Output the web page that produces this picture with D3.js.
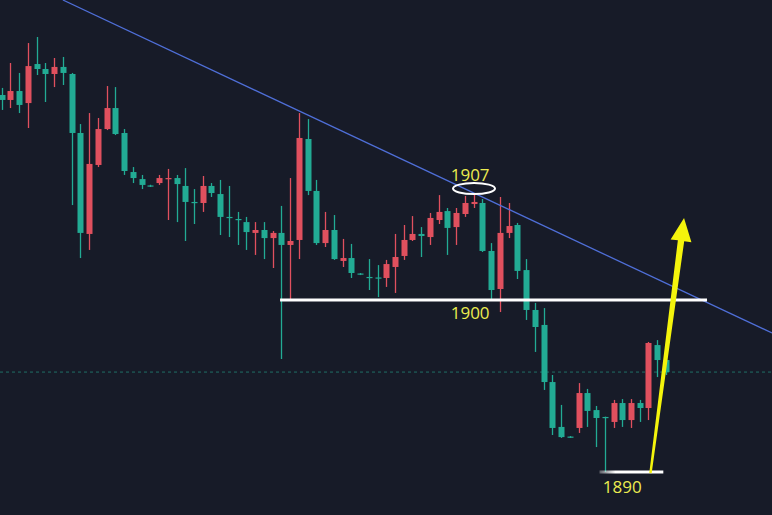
<!DOCTYPE html>
<html>
<head>
<meta charset="utf-8">
<script src="https://cdn.jsdelivr.net/npm/d3@7"></script>
<style>
  html, body { margin: 0; padding: 0; background: #171b28; }
  svg { display: block; }
</style>
</head>
<body>
<svg id="chart" width="772" height="515"></svg>
<script>
// ---- data (prices) ----
const opens  = [1911.92,1911.63,1912.15,1911.45,1913.72,1913.43,1913.14,1913.55,1913.14,1909.71,
                1903.84,1907.85,1909.94,1911.16,1909.71,1907.44,1907.03,1906.66,1906.80,1907.03,
                1907.09,1906.63,1905.70,1905.64,1906.63,1906.16,1904.83,1904.71,1904.53,1903.90,
                1904.07,1903.60,1903.90,1903.20,1903.49,1909.36,1906.34,1903.31,1904.07,1902.27,
                1902.44,1901.54,1901.34,1901.31,1901.28,1901.92,1902.56,1903.49,1903.84,1903.66,
                1904.65,1905.17,1904.24,1905.00,1905.58,1905.64,1902.85,1900.64,1903.90,1904.36,
                1901.74,1899.42,1898.55,1895.23,1892.62,1892.06,1892.56,1894.59,1893.60,1893.20,
                1892.91,1894.01,1893.02,1894.01,1893.72,1897.38,1896.51];
const highs  = [1912.33,1913.78,1913.20,1914.94,1915.29,1913.78,1914.07,1914.13,1913.20,1910.23,
                1910.87,1910.58,1912.44,1912.38,1909.94,1907.73,1907.27,1906.70,1907.27,1907.62,
                1907.27,1907.67,1906.45,1907.21,1906.80,1906.98,1906.63,1905.12,1904.83,1904.53,
                1904.53,1904.01,1905.47,1907.09,1910.87,1910.52,1906.98,1905.12,1904.94,1903.55,
                1903.26,1901.57,1902.38,1902.03,1902.33,1903.84,1904.36,1904.88,1904.24,1905.06,
                1906.10,1905.35,1905.35,1906.05,1906.22,1905.87,1903.31,1905.99,1905.64,1904.48,
                1902.38,1899.83,1899.53,1895.64,1893.90,1892.09,1895.17,1894.83,1893.84,1893.22,
                1894.19,1894.24,1894.24,1894.19,1897.56,1897.67,1896.98];
const lows   = [1911.05,1911.16,1910.87,1910.00,1913.08,1911.51,1912.38,1912.50,1905.52,1902.44,
                1902.91,1907.73,1909.88,1909.59,1907.27,1906.80,1906.45,1906.57,1906.69,1904.65,
                1904.53,1903.43,1904.42,1905.12,1905.99,1903.78,1903.66,1903.20,1902.91,1902.62,
                1902.38,1901.86,1896.57,1900.00,1902.38,1906.10,1903.20,1903.08,1902.33,1901.92,
                1901.28,1901.45,1900.58,1900.17,1900.76,1900.41,1902.33,1903.43,1902.50,1903.20,
                1904.42,1902.62,1903.20,1904.83,1905.35,1902.79,1900.06,1899.30,1903.60,1901.22,
                1898.84,1896.98,1894.77,1892.15,1891.98,1891.98,1892.27,1892.62,1891.45,1890.00,
                1892.56,1892.62,1892.56,1892.91,1893.02,1895.52,1895.64];
const closes = [1911.63,1912.15,1911.34,1913.60,1913.43,1913.14,1913.55,1913.20,1909.71,1903.90,
                1907.91,1909.94,1911.16,1909.65,1907.50,1907.09,1906.69,1906.60,1907.09,1907.09,
                1906.74,1905.70,1905.64,1906.63,1906.22,1904.83,1904.77,1904.65,1903.95,1904.07,
                1903.60,1903.90,1903.20,1903.43,1909.42,1906.34,1903.31,1904.07,1902.38,1902.44,
                1901.57,1901.48,1901.28,1901.25,1902.09,1902.50,1903.49,1903.84,1903.72,1904.77,
                1905.12,1904.19,1905.06,1905.64,1905.70,1902.85,1900.58,1903.90,1904.30,1901.69,
                1899.42,1898.43,1895.23,1892.56,1892.03,1892.00,1894.59,1893.55,1893.14,1893.14,
                1894.01,1893.02,1894.01,1893.72,1897.50,1896.51,1895.81];

// annotation levels
const supportLevel = 1900;
const lowLevel = 1890;
const highLevel = 1907;
const levelLabels = ["1907", "1900", "1890"];
// trend line: [candle index, price]
const trendLine = [[7.0, 1917.44], [88.14, 1898.08]];
// arrow: from [index, price] to tip [index, price]
const arrowFrom = [74.23, 1889.94];
const arrowTip  = [78.07, 1904.77];
// ellipse around the top
const ellipseCenter = [54.04, 1906.48];

// ---- scales ----
const W = 772, H = 515;
const n = opens.length;
const x = d3.scaleLinear().domain([0, n - 1]).range([1.7, 1.7 + (n - 1) * 8.74]);
const y = d3.scaleLinear().domain([lowLevel, supportLevel]).range([472, 300]);

const candles = opens.map((o, i) => ({ i, o, h: highs[i], l: lows[i], c: closes[i] }));

const svg = d3.select("#chart");
svg.append("rect").attr("width", W).attr("height", H).attr("fill", "#171b28");

const UP = "#e0505e", DOWN = "#22ab94";
const lastClose = closes[n - 1];

// price line (dashed)
svg.append("line")
  .attr("x1", 0).attr("x2", W)
  .attr("y1", y(lastClose)).attr("y2", y(lastClose))
  .attr("stroke", "#1f6e66").attr("stroke-width", 1)
  .attr("stroke-dasharray", "3,3");

// candles
const g = svg.append("g");
g.selectAll("line.wick").data(candles).join("line")
  .attr("class", "wick")
  .attr("x1", d => Math.round(x(d.i)) + 0.5).attr("x2", d => Math.round(x(d.i)) + 0.5)
  .attr("y1", d => y(d.h)).attr("y2", d => y(d.l))
  .attr("stroke", d => d.c >= d.o ? UP : DOWN).attr("stroke-width", 1.3);

g.selectAll("rect.body").data(candles).join("rect")
  .attr("class", "body")
  .attr("x", d => Math.round(x(d.i)) + 0.5 - 3)
  .attr("width", 6)
  .attr("y", d => y(Math.max(d.o, d.c)))
  .attr("height", d => Math.max(1.2, Math.abs(y(d.o) - y(d.c))))
  .attr("fill", d => d.c >= d.o ? UP : DOWN);

// trend line
svg.append("line")
  .attr("x1", x(trendLine[0][0])).attr("y1", y(trendLine[0][1]))
  .attr("x2", x(trendLine[1][0])).attr("y2", y(trendLine[1][1]))
  .attr("stroke", "#4f6fd8").attr("stroke-width", 1.3);

// support line 1900
svg.append("line")
  .attr("x1", x(31.85)).attr("x2", x(80.7))
  .attr("y1", y(supportLevel)).attr("y2", y(supportLevel))
  .attr("stroke", "#ffffff").attr("stroke-width", 3);

// low line 1890
const grad = svg.append("defs").append("linearGradient").attr("id", "fade")
  .attr("x1", "0%").attr("x2", "100%");
grad.append("stop").attr("offset", "0%").attr("stop-color", "#ffffff").attr("stop-opacity", 0.3);
grad.append("stop").attr("offset", "25%").attr("stop-color", "#ffffff").attr("stop-opacity", 1);
grad.append("stop").attr("offset", "100%").attr("stop-color", "#ffffff").attr("stop-opacity", 1);
svg.append("rect")
  .attr("x", x(68.4)).attr("width", x(75.7) - x(68.4))
  .attr("y", y(lowLevel) - 1.5).attr("height", 3)
  .attr("fill", "url(#fade)");

// ellipse
svg.append("ellipse")
  .attr("cx", x(ellipseCenter[0])).attr("cy", y(ellipseCenter[1]))
  .attr("rx", 21).attr("ry", 5.5)
  .attr("fill", "none").attr("stroke", "#ffffff").attr("stroke-width", 2);

// labels
const labelStyle = sel => sel
  .attr("text-anchor", "middle")
  .attr("fill", "#ecec50")
  .attr("font-family", "'Open Sans', 'Liberation Sans', Arial, sans-serif")
  .attr("font-size", 17);
svg.append("text").call(labelStyle)
  .attr("x", x(53.6)).attr("y", y(highLevel) + 1).text(levelLabels[0]);
svg.append("text").call(labelStyle)
  .attr("x", x(53.6)).attr("y", y(supportLevel) + 19).text(levelLabels[1]);
svg.append("text").call(labelStyle)
  .attr("x", x(71)).attr("y", y(lowLevel) + 21).text(levelLabels[2]);

// arrow
const ax0 = x(arrowFrom[0]), ay0 = y(arrowFrom[1]);
const ax1 = x(arrowTip[0]), ay1 = y(arrowTip[1]);
const dx = ax1 - ax0, dy = ay1 - ay0;
const len = Math.hypot(dx, dy);
const ux = dx / len, uy = dy / len;       // direction
const px = -uy, py = ux;                   // perpendicular
const headLen = 23, headHalf = 10.5;
const bx = ax1 - ux * headLen, by = ay1 - uy * headLen;
const w0 = 1.2, w1 = 3.2;
const pts = [
  [ax0 + px * w0, ay0 + py * w0],
  [bx + px * w1, by + py * w1],
  [bx + px * headHalf, by + py * headHalf],
  [ax1, ay1],
  [bx - px * headHalf, by - py * headHalf],
  [bx - px * w1, by - py * w1],
  [ax0 - px * w0, ay0 - py * w0]
];
svg.append("polygon")
  .attr("points", pts.map(p => p.join(",")).join(" "))
  .attr("fill", "#f4f40c");
</script>
</body>
</html>
